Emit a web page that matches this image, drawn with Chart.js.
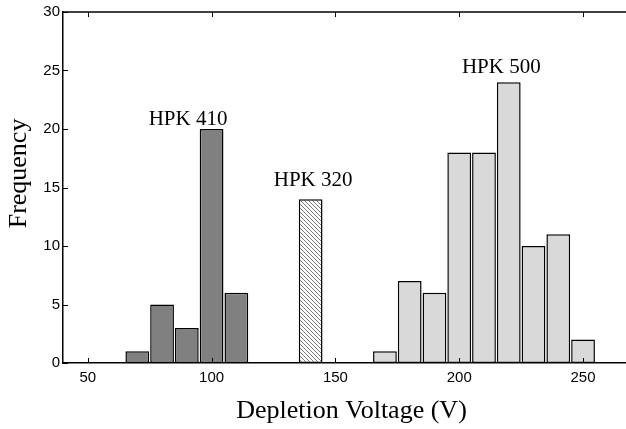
<!DOCTYPE html>
<html>
<head>
<meta charset="utf-8">
<script src="https://cdn.jsdelivr.net/npm/chart.js@4"></script>
<style>
  html, body { margin: 0; padding: 0; background: #fff; overflow: hidden; }
  #wrap { width: 640px; height: 429px; }
</style>
</head>
<body>
<div id="wrap"><canvas id="histChart" width="640" height="429"></canvas></div>
<script>
// Histogram data (bin centres in V, counts)
const hpk410Volts = [70, 80, 90, 100, 110];
const hpk410Counts = [1, 5, 3, 20, 6];
const hpk320Volts = [140];
const hpk320Counts = [14];
const hpk500Volts = [170, 180, 190, 200, 210, 220, 230, 240, 250];
const hpk500Counts = [1, 7, 6, 18, 18, 24, 10, 11, 2];

const xTicks = [50, 100, 150, 200, 250];
const yTicks = [0, 5, 10, 15, 20, 25, 30];

// group labels: text, x (V), y (frequency, text baseline)
const groupLabels = ['HPK 410', 'HPK 320', 'HPK 500'];
const groupLabelX = [90.5, 141, 217];
const groupLabelY = [20.3, 15.1, 24.8];

const serif = '"Liberation Serif", "Times New Roman", serif';
const sans = '"Liberation Sans", Arial, sans-serif';

function toPoints(xs, ys) {
    return xs.map(function(x, i) { return { x: x, y: ys[i] }; });
}

// hatch pattern for the HPK 320 bar
function makeHatch() {
    const c = document.createElement('canvas');
    c.width = 4; c.height = 4;
    const g = c.getContext('2d');
    g.fillStyle = '#ffffff';
    g.fillRect(0, 0, 4, 4);
    g.strokeStyle = '#555555';
    g.lineWidth = 0.8;
    g.beginPath();
    g.moveTo(-1, -1); g.lineTo(5, 5);
    g.moveTo(-1, 3); g.lineTo(1, 5);
    g.moveTo(3, -1); g.lineTo(5, 1);
    g.stroke();
    return g.createPattern(c, 'repeat');
}

// frame top line, inward ticks, group labels, y title
const framePlugin = {
    id: 'frame',
    afterDraw: function(chart) {
        const ctx = chart.ctx;
        const area = chart.chartArea;
        const xs = chart.scales.x;
        const ys = chart.scales.y;
        const len = 5;
        ctx.save();
        ctx.strokeStyle = '#000';
        ctx.lineWidth = 1.5;
        ctx.beginPath();
        ctx.moveTo(area.left, area.top);
        ctx.lineTo(area.right, area.top);
        ctx.stroke();
        ctx.lineWidth = 1;
        ctx.beginPath();
        xTicks.forEach(function(v) {
            const px = Math.round(xs.getPixelForValue(v)) + 0.5;
            ctx.moveTo(px, area.bottom); ctx.lineTo(px, area.bottom - len);
            ctx.moveTo(px, area.top); ctx.lineTo(px, area.top + len);
        });
        yTicks.forEach(function(v) {
            const py = Math.round(ys.getPixelForValue(v)) + 0.5;
            ctx.moveTo(area.left, py); ctx.lineTo(area.left + len, py);
        });
        ctx.stroke();

        ctx.fillStyle = '#000';
        ctx.font = '21px ' + serif;
        ctx.textAlign = 'center';
        ctx.textBaseline = 'alphabetic';
        groupLabels.forEach(function(t, i) {
            ctx.fillText(t, xs.getPixelForValue(groupLabelX[i]), ys.getPixelForValue(groupLabelY[i]));
        });

        // y axis title, sits a little above the axis middle as in the original
        ctx.translate(19, ys.getPixelForValue(16.2));
        ctx.rotate(-Math.PI / 2);
        ctx.font = '26px ' + serif;
        ctx.textBaseline = 'middle';
        ctx.fillText('Frequency', 0, 0);
        ctx.restore();
    }
};

const barCommon = {
    borderColor: '#000000',
    borderWidth: 1.5,
    borderSkipped: false,
    grouped: false,
    barPercentage: 0.96,
    categoryPercentage: 1.0
};

const ctxHist = document.getElementById('histChart').getContext('2d');
const histChart = new Chart(ctxHist, {
    type: 'bar',
    data: {
        datasets: [
            Object.assign({ label: 'HPK 410', data: toPoints(hpk410Volts, hpk410Counts), backgroundColor: '#808080' }, barCommon),
            Object.assign({ label: 'HPK 320', data: toPoints(hpk320Volts, hpk320Counts), backgroundColor: makeHatch() }, barCommon),
            Object.assign({ label: 'HPK 500', data: toPoints(hpk500Volts, hpk500Counts), backgroundColor: '#d9d9d9' }, barCommon)
        ]
    },
    options: {
        responsive: false,
        animation: false,
        layout: { padding: { top: 5, right: 0, left: 0, bottom: 0 } },
        scales: {
            x: {
                type: 'linear',
                min: 40,
                max: 273,
                offset: false,
                afterBuildTicks: function(scale) {
                    scale.ticks = xTicks.map(function(v) { return { value: v }; });
                },
                afterFit: function(scale) { scale.height = 66; },
                grid: { display: false, drawTicks: false },
                border: { display: true, color: '#000', width: 1.5 },
                ticks: {
                    padding: 6,
                    color: '#000',
                    maxRotation: 0,
                    font: { family: sans, size: 15 }
                },
                title: {
                    display: true,
                    text: 'Depletion Voltage (V)',
                    color: '#000',
                    padding: { top: 4, bottom: 2 },
                    font: { family: serif, size: 26 }
                }
            },
            y: {
                min: 0,
                max: 30,
                afterBuildTicks: function(scale) {
                    scale.ticks = yTicks.map(function(v) { return { value: v }; });
                },
                afterFit: function(scale) { scale.width = 63; },
                grid: { display: false, drawTicks: false },
                border: { display: true, color: '#000', width: 1.5 },
                ticks: {
                    padding: 3,
                    color: '#000',
                    font: { family: sans, size: 15 }
                },
                title: { display: false }
            }
        },
        plugins: {
            legend: { display: false },
            tooltip: { enabled: false }
        }
    },
    plugins: [framePlugin]
});
</script>
</body>
</html>
